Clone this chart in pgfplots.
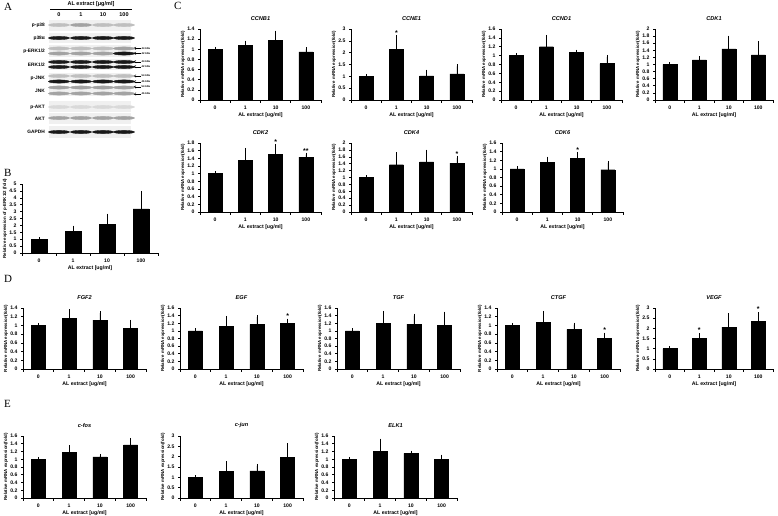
\documentclass[border=0pt]{standalone}
\usepackage{fontspec}
\setmainfont{Liberation Sans}
\newfontfamily\letterfont{Liberation Serif}
\usepackage{pgfplots}
\pgfplotsset{compat=1.18}
\newcommand{\st}[3]{\node[font=\fontsize{7}{7}\selectfont\bfseries, anchor=south, inner sep=0pt, yshift=0.5pt] at (axis cs:#1,#2) {#3};}
\newcommand{\lbl}[2]{\node[anchor=east, inner sep=0pt, font=\fontsize{4.8}{5}\selectfont\bfseries] at (axis cs:45,#1) {#2};}
\newcommand{\arr}[2]{\draw[line width=0.4pt, <-, >=stealth] (axis cs:133,#1) -- (axis cs:141,#1);
  \node[anchor=west, inner sep=0pt, font=\fontsize{2.6}{3}\selectfont\bfseries] at (axis cs:141.5,#1) {#2};}
\begin{document}
\begin{tikzpicture}
\useasboundingbox (0pt,0pt) rectangle (778pt,515pt);
\pgfplotsset{
  bp/.style={
    scale only axis, ybar, bar width=14pt,
    width=121pt, height=70pt,
    axis x line*=bottom, axis y line*=left,
    axis line style={-, line width=0.7pt},
    xmin=-0.5, xmax=3.5, ymin=0,
    xtick={0,1,2,3}, xticklabels={0,1,10,100},
    major x tick style={draw=none},
    minor xtick={-0.5,0.5,1.5,2.5,3.5},
    minor tick length=2.5pt, major tick length=2pt,
    tick align=outside,
    tick style={line width=0.6pt, black},
    ytick distance=0.2,
    /pgf/number format/assume math mode=true,
    tick label style={font=\fontsize{5.1}{5.5}\selectfont\bfseries},
    xlabel={AL extract [ug/ml]},
    xlabel style={font=\fontsize{5.2}{5.5}\selectfont\bfseries, yshift=3.5pt},
    ylabel={Relative mRNA expression(fold)},
    ylabel style={font=\fontsize{4.4}{5}\selectfont\bfseries, yshift=-4.5pt},
    title style={font=\fontsize{5.6}{6}\selectfont\bfseries\itshape, yshift=-1.5pt},
    anchor=south west, clip=false,
  },
  bars/.style={fill=black, draw=black,
    error bars/.cd, y dir=plus, y explicit,
    error bar style={line width=0.7pt, black},
    error mark options={line width=0.7pt, mark size=2pt, black}},
  band/.style={only marks, mark=*, color=#1, mark size=1.6pt,
    mark options={solid, xscale=6.6, draw=none, fill=#1}},
  strip/.style={fill=gray!12, draw=none},
}
% ---------- A: blot ----------
\begin{axis}[scale only axis, width=84pt, height=122pt, at={(48pt,375pt)}, anchor=south west,
  xmin=48, xmax=132, ymin=18, ymax=140, y dir=reverse, hide axis, clip=false]
\addplot[strip] coordinates {(49,20) (131,20) (131,31) (49,31)} --cycle;
\addplot[strip] coordinates {(49,33) (131,33) (131,43) (49,43)} --cycle;
\addplot[strip] coordinates {(49,45) (131,45) (131,57) (49,57)} --cycle;
\addplot[strip] coordinates {(49,59) (131,59) (131,70) (49,70)} --cycle;
\addplot[strip] coordinates {(49,73) (131,73) (131,84) (49,84)} --cycle;
\addplot[strip] coordinates {(49,86) (131,86) (131,96) (49,96)} --cycle;
\addplot[strip] coordinates {(49,101) (131,101) (131,112) (49,112)} --cycle;
\addplot[strip] coordinates {(49,113) (131,113) (131,124) (49,124)} --cycle;
\addplot[strip] coordinates {(49,126) (131,126) (131,138) (49,138)} --cycle;
% very faint bands
\addplot[band=gray!30] coordinates {(59,107) (81,107) (103,107) (124,107)};
% faint bands
\addplot[band=gray!50] coordinates {(59,25) (103,25) (124,25) (59,48.5) (81,48.5) (103,48.5)
  (59,76) (81,76) (103,76) (124,76)};
% medium bands
\addplot[band=gray!72] coordinates {(81,25) (124,48.5) (59,53.5) (81,53.5) (103,53.5)
  (59,87.5) (81,87.5) (103,87.5) (124,87.5) (59,93.5) (81,93.5) (103,93.5) (124,93.5)
  (59,118) (81,118) (103,118) (124,118)};
% dark bands
\addplot[band=black!90] coordinates {(59,38) (81,38) (103,38) (124,38) (124,53.5)
  (59,62) (81,62) (103,62) (124,62) (59,67) (81,67) (103,67) (124,67)
  (59,81.5) (81,81.5) (103,81.5) (124,81.5) (59,132) (81,132) (103,132) (124,132)};
\node[font=\fontsize{5.5}{6}\selectfont\bfseries] at (axis cs:91,4) {AL extract [μg/ml]};
\draw[line width=0.5pt] (axis cs:50,9) -- (axis cs:132,9);
\node[font=\fontsize{5.5}{6}\selectfont\bfseries] at (axis cs:59,14.5) {0};
\node[font=\fontsize{5.5}{6}\selectfont\bfseries] at (axis cs:81,14.5) {1};
\node[font=\fontsize{5.5}{6}\selectfont\bfseries] at (axis cs:103,14.5) {10};
\node[font=\fontsize{5.5}{6}\selectfont\bfseries] at (axis cs:124,14.5) {100};
\lbl{25}{p-p38}
\lbl{38}{p38α}
\lbl{51}{p-ERK1/2}
\lbl{64.5}{ERK1/2}
\lbl{78.5}{p-JNK}
\lbl{90.5}{JNK}
\lbl{107}{p-AKT}
\lbl{118.5}{AKT}
\lbl{132}{GAPDH}
\arr{48.3}{44 kDa} \arr{53.3}{42 kDa}
\arr{61.7}{44 kDa} \arr{66.7}{42 kDa}
\arr{76}{54 kDa} \arr{81.7}{46 kDa}
\arr{87}{54 kDa} \arr{94}{46 kDa}
\end{axis}
% ---------- B ----------
\begin{axis}[bp, at={(22pt,262pt)}, width=136pt, height=69pt, bar width=16pt, ymax=5, ytick distance=0.5,
  ylabel={Relative expression of p-ERK1/2 (fold)}]
\addplot[bars] coordinates {(0,1) +- (0,0) (1,1.55) +- (0,0.28) (2,2.1) +- (0,0.6) (3,3.2) +- (0,1.15)};
\end{axis}
% ---------- C row 1 ----------
\begin{axis}[bp, at={(200pt,415pt)}, height=71pt, ymax=1.4, title={CCNB1}]
\addplot[bars] coordinates {(0,1) +- (0,0.01) (1,1.08) +- (0,0.05) (2,1.18) +- (0,0.15) (3,0.95) +- (0,0.05)};
\end{axis}
\begin{axis}[bp, at={(351pt,415pt)}, height=71pt, ymax=3, ytick distance=0.5, title={CCNE1}]
\addplot[bars] coordinates {(0,1) +- (0,0.02) (1,2.15) +- (0,0.5) (2,1.02) +- (0,0.18) (3,1.1) +- (0,0.32)};
\st{1}{2.68}{*}
\end{axis}
\begin{axis}[bp, at={(501pt,415pt)}, height=71pt, ymax=1.6, title={CCND1}]
\addplot[bars] coordinates {(0,1) +- (0,0.01) (1,1.2) +- (0,0.22) (2,1.07) +- (0,0.02) (3,0.82) +- (0,0.15)};
\end{axis}
\begin{axis}[bp, at={(655pt,415pt)}, height=71pt, width=118pt, ymax=2, title={CDK1}]
\addplot[bars] coordinates {(0,1) +- (0,0.01) (1,1.13) +- (0,0.05) (2,1.44) +- (0,0.32) (3,1.27) +- (0,0.33)};
\end{axis}
% ---------- C row 2 ----------
\begin{axis}[bp, at={(200pt,303pt)}, height=69pt, ymax=1.8, title={CDK2}]
\addplot[bars] coordinates {(0,1) +- (0,0.01) (1,1.34) +- (0,0.28) (2,1.5) +- (0,0.22) (3,1.43) +- (0,0.07)};
\st{2}{1.74}{*}
\st{3}{1.52}{**}
\end{axis}
\begin{axis}[bp, at={(351pt,303pt)}, height=69pt, ymax=2, title={CDK4}]
\addplot[bars] coordinates {(0,1) +- (0,0.01) (1,1.37) +- (0,0.3) (2,1.45) +- (0,0.3) (3,1.42) +- (0,0.15)};
\st{3}{1.6}{*}
\end{axis}
\begin{axis}[bp, at={(502pt,303pt)}, height=69pt, ymax=1.6, title={CDK6}]
\addplot[bars] coordinates {(0,1) +- (0,0.01) (1,1.15) +- (0,0.09) (2,1.25) +- (0,0.1) (3,0.98) +- (0,0.16)};
\st{2}{1.37}{*}
\end{axis}
% ---------- D ----------
\begin{axis}[bp, at={(23pt,146pt)}, height=61pt, width=123pt, ymax=1.4, title={FGF2}]
\addplot[bars] coordinates {(0,1) +- (0,0.01) (1,1.16) +- (0,0.17) (2,1.12) +- (0,0.16) (3,0.94) +- (0,0.14)};
\end{axis}
\begin{axis}[bp, at={(180pt,146pt)}, height=61pt, width=123pt, ymax=1.6, title={EGF}]
\addplot[bars] coordinates {(0,1) +- (0,0.01) (1,1.11) +- (0,0.23) (2,1.17) +- (0,0.19) (3,1.2) +- (0,0.07)};
\st{3}{1.3}{*}
\end{axis}
\begin{axis}[bp, at={(337pt,146pt)}, height=61pt, width=123pt, ymax=1.6, title={TGF}]
\addplot[bars] coordinates {(0,1) +- (0,0.01) (1,1.19) +- (0,0.28) (2,1.18) +- (0,0.22) (3,1.14) +- (0,0.31)};
\end{axis}
\begin{axis}[bp, at={(497pt,146pt)}, height=61pt, width=123pt, ymax=1.4, title={CTGF}]
\addplot[bars] coordinates {(0,1) +- (0,0.01) (1,1.07) +- (0,0.22) (2,0.91) +- (0,0.11) (3,0.71) +- (0,0.08)};
\st{3}{0.83}{*}
\end{axis}
\begin{axis}[bp, at={(655pt,146pt)}, height=61pt, width=118pt, ymax=3, ytick distance=0.5, title={VEGF}]
\addplot[bars] coordinates {(0,1) +- (0,0.02) (1,1.52) +- (0,0.14) (2,2.06) +- (0,0.59) (3,2.36) +- (0,0.34)};
\st{1}{1.75}{*}
\st{3}{2.78}{*}
\end{axis}
% ---------- E ----------
\begin{axis}[bp, at={(23pt,17pt)}, height=62pt, width=123pt, ymax=1.6, title={c-fos}]
\addplot[bars] coordinates {(0,1) +- (0,0.01) (1,1.17) +- (0,0.14) (2,1.06) +- (0,0.03) (3,1.37) +- (0,0.13)};
\end{axis}
\begin{axis}[bp, at={(180pt,17pt)}, height=62pt, width=123pt, ymax=3, ytick distance=0.5, title={c-jun}]
\addplot[bars] coordinates {(0,1) +- (0,0.01) (1,1.3) +- (0,0.39) (2,1.31) +- (0,0.24) (3,1.98) +- (0,0.57)};
\end{axis}
\begin{axis}[bp, at={(334pt,17pt)}, height=62pt, width=123pt, ymax=1.6, title={ELK1}]
\addplot[bars] coordinates {(0,1) +- (0,0.01) (1,1.2) +- (0,0.28) (2,1.15) +- (0,0.02) (3,1.0) +- (0,0.07)};
\end{axis}
% ---------- panel letters ----------
\node[anchor=north west, inner sep=0pt, font=\fontsize{11}{11}\selectfont\letterfont] at (4pt,512pt) {A};
\node[anchor=north west, inner sep=0pt, font=\fontsize{11}{11}\selectfont\letterfont] at (4pt,346pt) {B};
\node[anchor=north west, inner sep=0pt, font=\fontsize{11}{11}\selectfont\letterfont] at (174pt,513pt) {C};
\node[anchor=north west, inner sep=0pt, font=\fontsize{11}{11}\selectfont\letterfont] at (4pt,240pt) {D};
\node[anchor=north west, inner sep=0pt, font=\fontsize{11}{11}\selectfont\letterfont] at (4pt,115pt) {E};
\end{tikzpicture}
\end{document}
